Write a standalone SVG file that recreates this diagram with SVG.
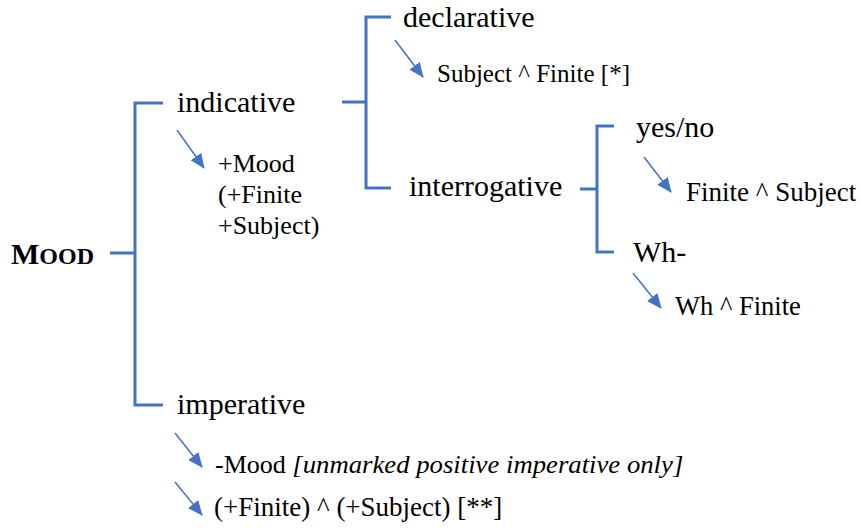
<svg xmlns="http://www.w3.org/2000/svg" width="860" height="528" viewBox="0 0 860 528">
<style>
.br{fill:none;stroke:#4472C4;stroke-width:3}
.ar{stroke:#4472C4;stroke-width:1.5;marker-end:url(#ah)}
text{font-family:'Liberation Serif','Times New Roman',Tinos,'DejaVu Serif',serif;fill:#000}
.main{font-size:30px}
.sub{font-size:26px}
.it{font-style:italic}
.mood{font-weight:bold}
</style>
<defs>
<marker id="ah" markerWidth="15" markerHeight="13" refX="14" refY="6.5" orient="auto" markerUnits="userSpaceOnUse">
<path d="M0,0 L15,6.5 L0,13 Z" fill="#4472C4"/>
</marker>
</defs>
<rect width="860" height="528" fill="#fff"/>
<g id="connectors">
<path class="br" d="M110,253 H135 M163,103 H135 V405 H163"/>
<path class="br" d="M342,102 H366 M391,17 H366 V188 H391"/>
<path class="br" d="M580,189 H597 M614,126 H597 V252 H614"/>
<line class="ar" x1="177" y1="130" x2="204" y2="168"/>
<line class="ar" x1="395" y1="40" x2="423" y2="77"/>
<line class="ar" x1="644" y1="157" x2="671" y2="192"/>
<line class="ar" x1="633" y1="273" x2="661" y2="308"/>
<line class="ar" x1="175" y1="433" x2="202" y2="467"/>
<line class="ar" x1="175" y1="482" x2="202" y2="515"/>
</g>
<g id="mood"><text class="mood" x="11" y="264"><tspan style="font-size:30px">M</tspan><tspan style="font-size:24px">OOD</tspan></text></g>
<g id="indicative"><text class="main" x="177" y="112">indicative</text></g>
<g id="indicative-realization"><text class="sub"><tspan x="218" y="172">+Mood</tspan><tspan x="218" y="203">(+Finite</tspan><tspan x="218" y="234">+Subject)</tspan></text></g>
<g id="declarative"><text class="main" x="403" y="27">declarative</text></g>
<g id="declarative-realization"><text class="sub" x="437" y="82" style="font-size:25px">Subject ^ Finite [*]</text></g>
<g id="interrogative"><text class="main" x="409" y="196">interrogative</text></g>
<g id="yesno"><text class="main" x="636" y="137">yes/no</text></g>
<g id="yesno-realization"><text class="sub" x="686" y="201" style="font-size:27px">Finite ^ Subject</text></g>
<g id="wh"><text class="main" x="633" y="262">Wh-</text></g>
<g id="wh-realization"><text class="sub" x="675" y="315" style="font-size:26.5px">Wh ^ Finite</text></g>
<g id="imperative"><text class="main" x="177" y="414">imperative</text></g>
<g id="imperative-realization-1"><text class="sub" x="215" y="473">-Mood <tspan class="it" textLength="391" lengthAdjust="spacingAndGlyphs">[unmarked positive imperative only]</tspan></text></g>
<g id="imperative-realization-2"><text class="sub" x="214" y="516" style="font-size:27px">(+Finite) ^ (+Subject) [**]</text></g>
</svg>
